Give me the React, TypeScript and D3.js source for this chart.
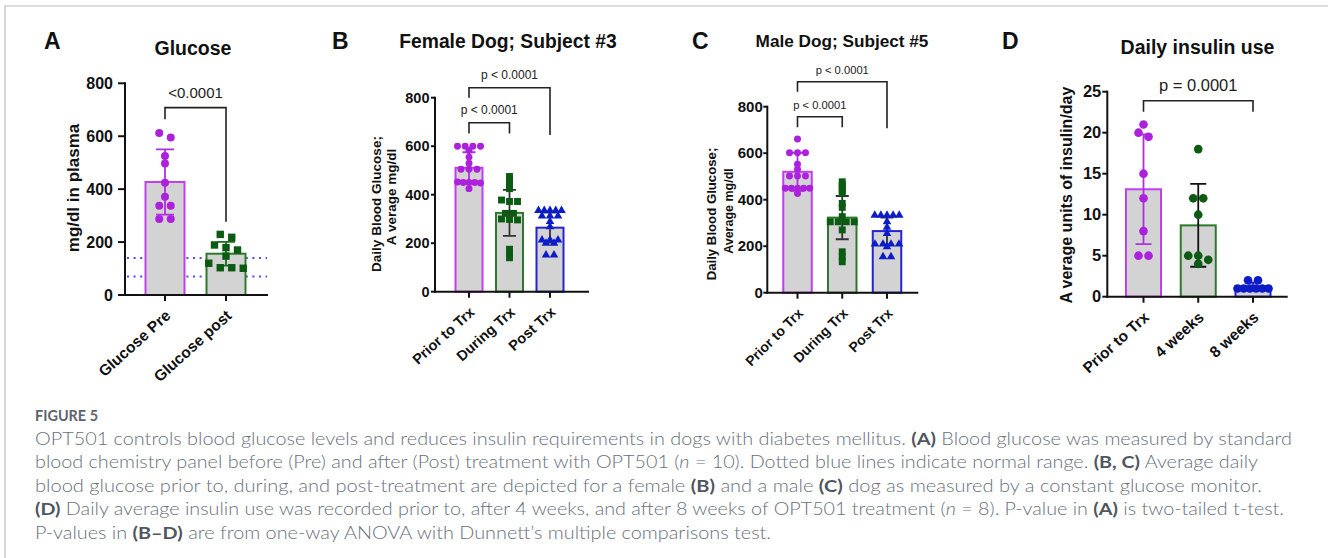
import React from 'react'
import * as d3 from 'd3'

const FONT = '"Liberation Sans", Arial, Helvetica, sans-serif'
const CAP_FONT = 'Lato, "Open Sans", sans-serif'

// ---- panel A: glucose in plasma
const A_CATS = ['Glucose Pre', 'Glucose post']
const A_MEAN = [427, 156]
const A_SD = [123, 45]
const A_PRE = [612, 595, 525, 497, 424, 371, 337, 337, 287, 287]
const A_POST = [229, 218, 189, 179, 170, 147, 120, 103, 103, 101]
const A_NORMAL = [140, 70]
const A_TICKS = [0, 200, 400, 600, 800]
const A_BRACKETS = [{ from: 'Glucose Pre', to: 'Glucose post', at: 708, ends: [664, 277], label: '<0.0001' }]

// ---- panel B: female dog
const B_CATS = ['Prior to Trx', 'During Trx', 'Post Trx']
const B_MEAN = [511, 325, 264]
const B_SD = [64, 95, 62]
const B_PRIOR = [600, 600, 600, 600, 582, 555, 530, 505, 505, 505, 452, 450, 450, 450, 448, 425]
const B_DURING = [475, 462, 450, 437, 425, 378, 372, 372, 323, 323, 300, 298, 296, 175, 157, 140]
const B_POST = [335, 335, 335, 335, 335, 312, 312, 312, 289, 268, 213, 213, 213, 200, 200, 151, 151]
const B_TICKS = [0, 200, 400, 600, 800]
const B_BRACKETS = [
  { from: 'Prior to Trx', to: 'Post Trx', at: 841, ends: [800, 646], label: 'p < 0.0001' },
  { from: 'Prior to Trx', to: 'During Trx', at: 697, ends: [652, 652], label: 'p < 0.0001' },
]

// ---- panel C: male dog
const C_CATS = ['Prior to Trx', 'During Trx', 'Post Trx']
const C_MEAN = [520, 323, 265]
const C_SD = [82, 93, 58]
const C_PRIOR = [661, 602, 602, 602, 553, 531, 502, 502, 502, 449, 449, 449, 449, 449, 427]
const C_DURING = [477, 465, 452, 440, 428, 384, 367, 327, 305, 305, 305, 305, 270, 176, 155, 133]
const C_POST = [333, 333, 333, 333, 333, 305, 281, 255, 209, 209, 209, 209, 198, 155, 155]
const C_TICKS = [0, 200, 400, 600, 800]
const C_BRACKETS = [
  { from: 'Prior to Trx', to: 'Post Trx', at: 907, ends: [864, 707], label: 'p < 0.0001' },
  { from: 'Prior to Trx', to: 'During Trx', at: 757, ends: [712, 712], label: 'p < 0.0001' },
]

// ---- panel D: insulin
const D_CATS = ['Prior to Trx', '4 weeks', '8 weeks']
const D_MEAN = [13.1, 8.7, 1.25]
const D_SD = [6.7, 5.05, 0.46]
const D_PRIOR = [21, 20, 19.5, 15, 12, 8, 5, 5]
const D_4WK = [18, 12, 12, 10, 5, 5, 4.5, 4]
const D_8WK = [2, 2, 1, 1, 1, 1, 1, 1]
const D_TICKS = [0, 5, 10, 15, 20, 25]
const D_BRACKETS = [{ from: 'Prior to Trx', to: '8 weeks', at: 23.9, ends: [22.55, 22.55], label: 'p = 0.0001' }]

const PURPLE = { pt: '#ac22dc', stroke: '#c23ef0' }
const GREEN = { pt: '#0b5c12', stroke: '#2d7a2d' }
const BLUE = { pt: '#0c1cc8', stroke: '#2424d4' }

const PANELS = [
  {
    letter: 'A', letterX: 44, title: 'Glucose', titleX: 193, titleY: 55, titleSize: 19.5,
    left: 125, right: 267, top: 83.3, bottom: 295, firstX: 165, lastX: 226, barW: 39,
    yMax: 800, ticks: A_TICKS, tickSize: 16, tickLen: 7, tickGap: 5,
    yLabel: [['mg/dl in plasma']], yLabelX: [73], yLabelY: [188], yLabelSize: [17],
    cats: A_CATS, means: A_MEAN, sds: A_SD, normal: A_NORMAL,
    groups: [
      { values: A_PRE, shape: d3.symbolCircle, area: 50, ...PURPLE, err: '#b030e0' },
      { values: A_POST, shape: d3.symbolSquare, area: 55, ...GREEN, err: '#1f6d1f' },
    ],
    brackets: A_BRACKETS, bracketSize: 15, bracketGap: 10,
    rowThr: 5.5, rowGap: 11.5, capW: 18, xLabelSize: 15.5, xAngle: 42,
  },
  {
    letter: 'B', letterX: 332, title: 'Female Dog; Subject #3', titleX: 508, titleY: 48, titleSize: 19.3,
    left: 435, right: 588, top: 97.7, bottom: 291.7, firstX: 469, lastX: 550, barW: 27,
    yMax: 800, ticks: B_TICKS, tickSize: 14.5, tickLen: 4, tickGap: 1.5,
    yLabel: [['Daily Blood Glucose;'], ['A', 'verage mg/dl']], yLabelX: [376.5, 391.5], yLabelY: [204, 197], yLabelSize: [13.5, 13.5],
    cats: B_CATS, means: B_MEAN, sds: B_SD,
    groups: [
      { values: B_PRIOR, shape: d3.symbolCircle, area: 38, ...PURPLE, err: '#b030e0' },
      { values: B_DURING, shape: d3.symbolSquare, area: 48, ...GREEN, err: '#333' },
      { values: B_POST, shape: d3.symbolTriangle, area: 32, ...BLUE, err: '#333' },
    ],
    brackets: B_BRACKETS, bracketSize: 12, bracketGap: 8.5,
    rowThr: 2.5, rowGap: 8, capW: 13, xLabelSize: 14.5, xAngle: 42,
  },
  {
    letter: 'C', letterX: 692, title: 'Male Dog; Subject #5', titleX: 842, titleY: 47, titleSize: 17.2,
    left: 767.3, right: 917.3, top: 106.7, bottom: 292.7, firstX: 797.5, lastX: 887, barW: 28.5,
    yMax: 800, ticks: C_TICKS, tickSize: 15, tickLen: 4, tickGap: 0.5,
    yLabel: [['Daily Blood Glucose;'], ['Average mg/dl']], yLabelX: [711, 728.5], yLabelY: [214, 211], yLabelSize: [13.2, 12.5],
    cats: C_CATS, means: C_MEAN, sds: C_SD,
    groups: [
      { values: C_PRIOR, shape: d3.symbolCircle, area: 38, ...PURPLE, err: '#b030e0' },
      { values: C_DURING, shape: d3.symbolSquare, area: 48, ...GREEN, err: '#333' },
      { values: C_POST, shape: d3.symbolTriangle, area: 32, ...BLUE, err: '#333' },
    ],
    brackets: C_BRACKETS, bracketSize: 11.2, bracketGap: 7.5,
    rowThr: 2.5, rowGap: 8, capW: 13, xLabelSize: 14, xAngle: 45,
  },
  {
    letter: 'D', letterX: 1002, title: 'Daily insulin use', titleX: 1197.5, titleY: 54, titleSize: 19.5,
    left: 1107.3, right: 1286.7, top: 91.7, bottom: 296.7, firstX: 1143.5, lastX: 1253, barW: 35,
    yMax: 25, ticks: D_TICKS, tickSize: 16.5, tickLen: 5, tickGap: 1,
    yLabel: [['A', 'verage units of insulin/day']], yLabelX: [1066.5], yLabelY: [195], yLabelSize: [16],
    cats: D_CATS, means: D_MEAN, sds: D_SD,
    groups: [
      { values: D_PRIOR, shape: d3.symbolCircle, area: 59, ...PURPLE, err: '#b030e0' },
      { values: D_4WK, shape: d3.symbolCircle, area: 59, ...GREEN, err: '#111' },
      { values: D_8WK, shape: d3.symbolCircle, area: 59, ...BLUE, err: '#1a1ad0' },
    ],
    brackets: D_BRACKETS, bracketSize: 16.5, bracketGap: 9.5,
    rowThr: 5, rowGap: 10, capW: 16, xLabelSize: 15.5, xAngle: 42,
  },
]

// GraphPad-like scatter: values that fall in the same row are spread side by side
function swarm(values: number[], y: (v: number) => number, thr: number, gap: number, maxW: number) {
  const sorted = [...values].sort((a, b) => b - a)
  const rows: number[][] = []
  sorted.forEach((v) => {
    const row = rows[rows.length - 1]
    if (row && Math.abs(y(row[0]) - y(v)) <= thr) row.push(v)
    else rows.push([v])
  })
  const out: { v: number; dx: number }[] = []
  rows.forEach((row) => {
    const n = row.length
    const s = n > 1 ? Math.min(gap, maxW / (n - 1)) : 0
    row.forEach((v, k) => out.push({ v, dx: (k - (n - 1) / 2) * s }))
  })
  return out
}

function Panel({ cfg }: { cfg: any }) {
  const y = d3.scaleLinear().domain([0, cfg.yMax]).range([cfg.bottom, cfg.top])
  const x = d3.scalePoint<string>().domain(cfg.cats).range([cfg.firstX, cfg.lastX])
  const bw = cfg.barW
  const cw = cfg.capW / 2

  return (
    <g fontFamily={FONT} fill="#111">
      <text x={cfg.letterX} y={49} fontSize={23} fontWeight="bold">{cfg.letter}</text>
      <text x={cfg.titleX} y={cfg.titleY} textAnchor="middle" fontSize={cfg.titleSize} fontWeight="bold">
        {cfg.title}
      </text>

      {cfg.normal &&
        cfg.normal.map((v: number) => (
          <line key={v} x1={cfg.left + 2} x2={cfg.right} y1={y(v)} y2={y(v)}
            stroke="#4a4aff" strokeWidth={2} strokeDasharray="2 4.6" />
        ))}

      {cfg.cats.map((c: string, i: number) => (
        <rect key={c} x={x(c)! - bw / 2} y={y(cfg.means[i])} width={bw} height={y(0) - y(cfg.means[i])}
          fill="#d3d3d3" stroke={cfg.groups[i].stroke} strokeWidth={2} />
      ))}

      {cfg.cats.map((c: string, i: number) => {
        const cx = x(c)!
        const hi = y(cfg.means[i] + cfg.sds[i])
        const lo = y(cfg.means[i] - cfg.sds[i])
        return (
          <path key={c} d={`M${cx},${lo}V${hi}M${cx - cw},${hi}H${cx + cw}M${cx - cw},${lo}H${cx + cw}`}
            stroke={cfg.groups[i].err} strokeWidth={1.8} fill="none" />
        )
      })}

      {cfg.groups.map((g: any, i: number) => {
        const cx = x(cfg.cats[i])!
        const sym = d3.symbol().type(g.shape).size(g.area)()!
        return swarm(g.values, y, cfg.rowThr, cfg.rowGap, bw - 4).map((p, k) => (
          <path key={k} d={sym} transform={`translate(${cx + p.dx},${y(p.v)})`} fill={g.pt} />
        ))
      })}

      {/* axes */}
      <line x1={cfg.left} x2={cfg.left} y1={cfg.bottom} y2={y(cfg.yMax)} stroke="#111" strokeWidth={2} strokeLinecap="square" />
      <line x1={cfg.left} x2={cfg.right} y1={cfg.bottom} y2={cfg.bottom} stroke="#111" strokeWidth={2} strokeLinecap="square" />
      {cfg.ticks.map((t: number) => (
        <g key={t}>
          <line x1={cfg.left - cfg.tickLen} x2={cfg.left} y1={y(t)} y2={y(t)} stroke="#111" strokeWidth={2} />
          <text x={cfg.left - cfg.tickLen - cfg.tickGap} y={y(t)} dy="0.35em" textAnchor="end" fontSize={cfg.tickSize} fontWeight="bold">
            {t}
          </text>
        </g>
      ))}
      {cfg.cats.map((c: string) => (
        <g key={c}>
          <line x1={x(c)} x2={x(c)} y1={cfg.bottom} y2={cfg.bottom + 6} stroke="#111" strokeWidth={2} />
          <text transform={`translate(${x(c)! + 3},${cfg.bottom + 18}) rotate(${-cfg.xAngle})`} dy="0.35em"
            textAnchor="end" fontSize={cfg.xLabelSize} fontWeight="bold">
            {c}
          </text>
        </g>
      ))}

      {cfg.yLabel.map((parts: string[], i: number) => (
        <text key={i} transform={`translate(${cfg.yLabelX[i]},${cfg.yLabelY[i]}) rotate(-90)`} dy="0.35em"
          textAnchor="middle" fontSize={cfg.yLabelSize[i]} fontWeight="bold">
          {parts.map((s, k) => (
            <tspan key={k} dx={k > 0 ? 4 : 0}>{s}</tspan>
          ))}
        </text>
      ))}

      {cfg.brackets.map((b: any, i: number) => {
        const x1 = x(b.from)!
        const x2 = x(b.to)!
        return (
          <g key={i}>
            <path d={`M${x1},${y(b.ends[0])}V${y(b.at)}H${x2}V${y(b.ends[1])}`} fill="none" stroke="#222" strokeWidth={1.6} />
            <text x={(x1 + x2) / 2} y={y(b.at) - cfg.bracketGap} textAnchor="middle" fontSize={cfg.bracketSize} fill="#222">
              {b.label}
            </text>
          </g>
        )
      })}
    </g>
  )
}

type Seg = [string, 'r' | 'b' | 'i']
const CAPTION: Seg[][] = [
  [
    ['OPT501 controls blood glucose levels and reduces insulin requirements in dogs with diabetes mellitus. ', 'r'],
    ['(A)', 'b'],
    [' Blood glucose was measured by standard', 'r'],
  ],
  [
    ['blood chemistry panel before (Pre) and after (Post) treatment with OPT501 (', 'r'],
    ['n', 'i'],
    [' = 10). Dotted blue lines indicate normal range. ', 'r'],
    ['(B, C)', 'b'],
    [' Average daily', 'r'],
  ],
  [
    ['blood glucose prior to, during, and post-treatment are depicted for a female ', 'r'],
    ['(B)', 'b'],
    [' and a male ', 'r'],
    ['(C)', 'b'],
    [' dog as measured by a constant glucose monitor.', 'r'],
  ],
  [
    ['(D)', 'b'],
    [' Daily average insulin use was recorded prior to, after 4 weeks, and after 8 weeks of OPT501 treatment (', 'r'],
    ['n', 'i'],
    [' = 8). P-value in ', 'r'],
    ['(A)', 'b'],
    [' is two-tailed t-test.', 'r'],
  ],
  [
    ['P-values in ', 'r'],
    ['(B–D)', 'b'],
    [' are from one-way ANOVA with Dunnett’s multiple comparisons test.', 'r'],
  ],
]
const CAPTION_W = [1257, 1223, 1227, 1249, 736]

function Caption() {
  return (
    <g fontFamily={CAP_FONT}>
      <text x={35} y={421} fontSize={14.5} fontWeight={700} fill="#5d636d" textLength={63} lengthAdjust="spacingAndGlyphs">
        FIGURE 5
      </text>
      {CAPTION.map((line, i) => (
        <text key={i} x={35} y={445 + i * 23.4} fontSize={17.5} fontWeight={300} fill="#69707b"
          textLength={CAPTION_W[i]} lengthAdjust="spacingAndGlyphs" style={{ whiteSpace: 'pre' }}>
          {line.map(([s, t], k) => (
            <tspan key={k} fontWeight={t === 'b' ? 700 : 300} fontStyle={t === 'i' ? 'italic' : 'normal'}
              fill={t === 'b' ? '#50565f' : '#69707b'}>
              {s}
            </tspan>
          ))}
        </text>
      ))}
    </g>
  )
}

export default function App() {
  return (
    <svg width={1328} height={558} style={{ position: 'absolute', left: 0, top: 0 }}>
      <rect width={1328} height={558} fill="#fff" />
      <line x1={5} y1={6} x2={1328} y2={6} stroke="#bcbcbc" strokeWidth={1.2} />
      <line x1={5} y1={6} x2={5} y2={558} stroke="#bcbcbc" strokeWidth={1.2} />
      {PANELS.map((p) => (
        <Panel key={p.letter} cfg={p} />
      ))}
      <Caption />
    </svg>
  )
}
